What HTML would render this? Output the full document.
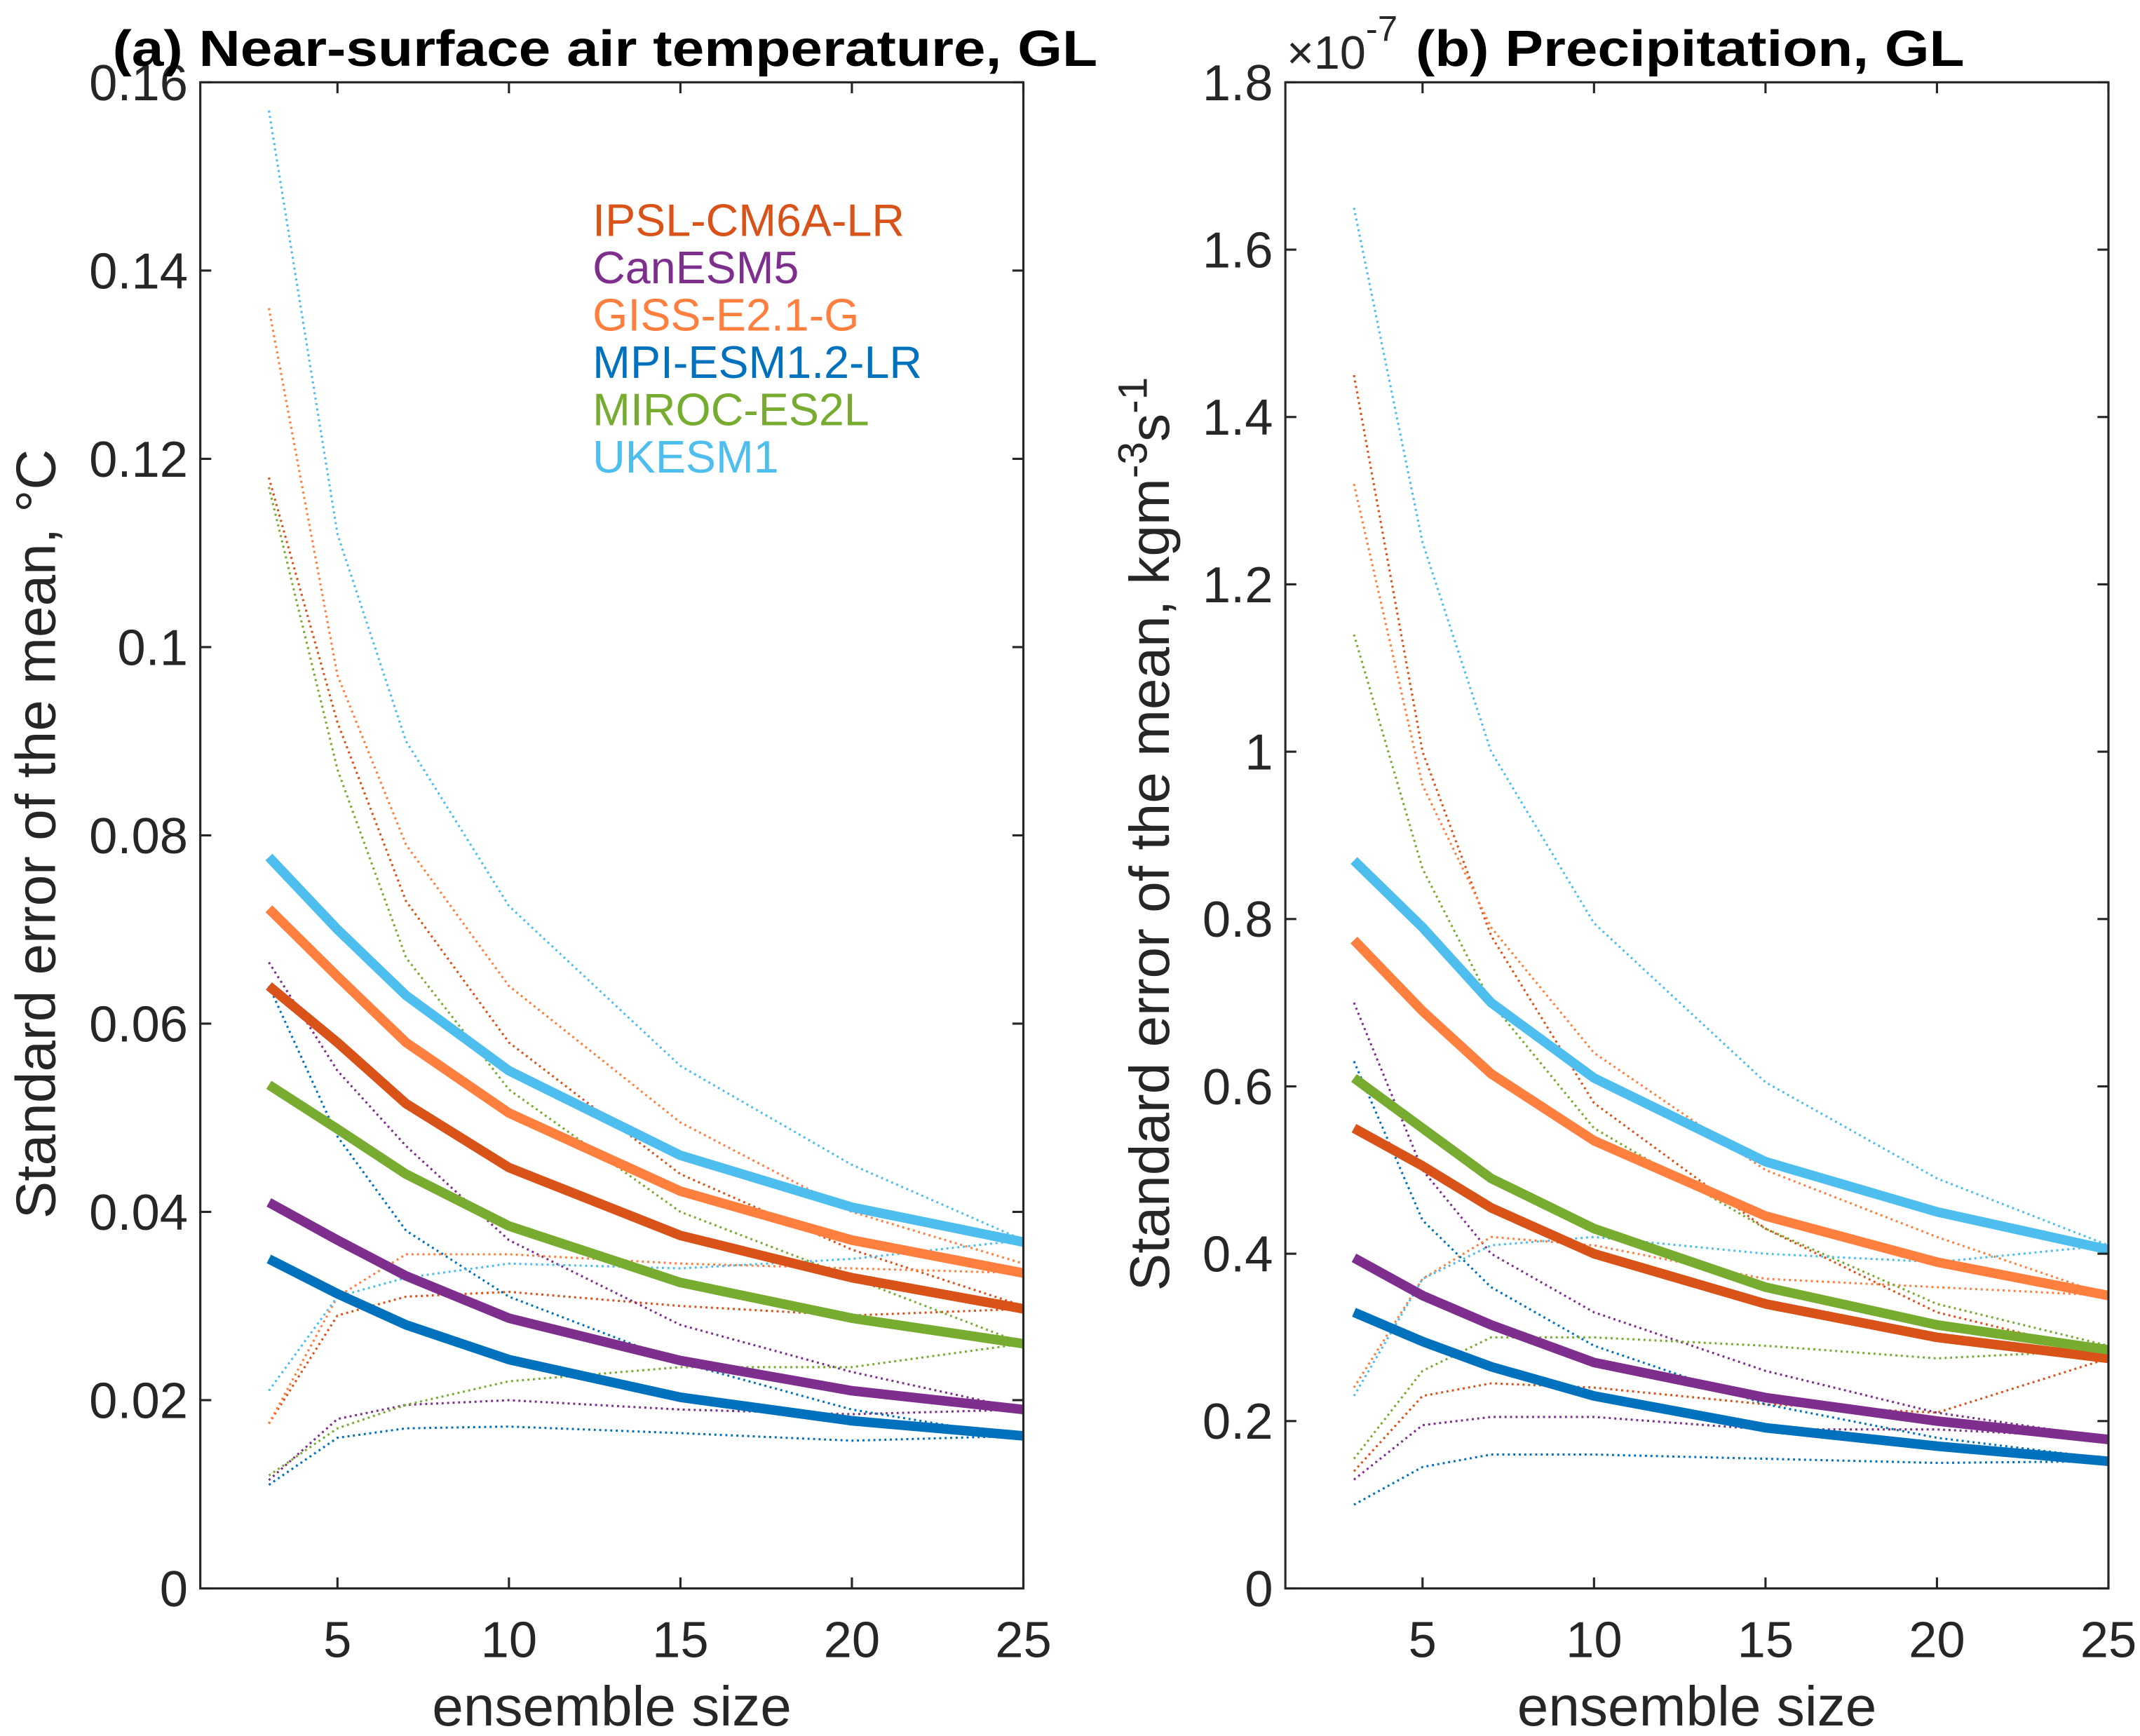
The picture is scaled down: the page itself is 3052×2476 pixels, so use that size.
<!DOCTYPE html>
<html><head><meta charset="utf-8"><style>
html,body{margin:0;padding:0;background:#fff;}
svg{display:block;font-family:"Liberation Sans",Arial,sans-serif;}
</style></head><body>
<svg id="chart" width="3052" height="2476" viewBox="0 0 1560 1265.6" xmlns="http://www.w3.org/2000/svg"></svg>
<script>
const ensembleSizes=[3,5,7,10,15,20,25];
const models=["IPSL-CM6A-LR","CanESM5","GISS-E2.1-G","MPI-ESM1.2-LR","MIROC-ES2L","UKESM1"];
const colors=["#D95319","#7E2F8E","#FF7F3F","#0072BD","#77AC30","#4DBEEE"];
// Panel a: temperature
const aMean=[[0.064,0.058,0.0515,0.0447,0.0375,0.033,0.0297],[0.041,0.037,0.0332,0.0287,0.0242,0.021,0.019],[0.0722,0.065,0.058,0.0505,0.0422,0.037,0.0335],[0.035,0.0313,0.028,0.0243,0.0203,0.0178,0.0162],[0.0535,0.0488,0.044,0.0385,0.0325,0.0287,0.026],[0.0777,0.070,0.063,0.055,0.046,0.0405,0.0368]];
const aUpper=[[0.118,0.092,0.073,0.058,0.044,0.036,0.030],[0.0665,0.055,0.047,0.037,0.028,0.023,0.019],[0.136,0.097,0.079,0.064,0.0495,0.040,0.0345],[0.064,0.048,0.038,0.031,0.024,0.019,0.016],[0.117,0.087,0.067,0.053,0.040,0.033,0.026],[0.157,0.112,0.090,0.0725,0.0555,0.045,0.037]];
const aLower=[[0.0175,0.029,0.031,0.0315,0.030,0.029,0.0297],[0.0115,0.018,0.0195,0.020,0.019,0.0185,0.019],[0.0175,0.031,0.0355,0.0355,0.0345,0.034,0.0335],[0.011,0.016,0.017,0.0172,0.0165,0.0157,0.0162],[0.012,0.017,0.0195,0.022,0.0235,0.0235,0.026],[0.021,0.031,0.033,0.0345,0.034,0.035,0.037]];
// Panel b: precipitation (x1e-7)
const bMean=[[0.55,0.505,0.455,0.40,0.34,0.30,0.275],[0.395,0.35,0.315,0.27,0.228,0.2,0.178],[0.775,0.69,0.615,0.535,0.445,0.39,0.35],[0.33,0.295,0.265,0.23,0.192,0.17,0.152],[0.61,0.55,0.49,0.43,0.36,0.315,0.285],[0.87,0.79,0.70,0.61,0.51,0.45,0.405]];
const bUpper=[[1.45,1.0,0.78,0.58,0.43,0.33,0.28],[0.70,0.50,0.40,0.33,0.26,0.21,0.18],[1.32,0.96,0.79,0.64,0.50,0.42,0.35],[0.63,0.44,0.36,0.29,0.22,0.18,0.155],[1.14,0.86,0.70,0.55,0.43,0.34,0.29],[1.65,1.25,1.0,0.795,0.605,0.49,0.41]];
const bLower=[[0.14,0.23,0.245,0.24,0.22,0.21,0.275],[0.13,0.195,0.205,0.205,0.19,0.19,0.18],[0.24,0.37,0.42,0.41,0.37,0.36,0.35],[0.10,0.145,0.16,0.16,0.155,0.15,0.152],[0.155,0.26,0.30,0.30,0.29,0.275,0.285],[0.23,0.37,0.41,0.42,0.40,0.39,0.41]];
const xTicks=[5,10,15,20,25];
const aYTicks=[0,0.02,0.04,0.06,0.08,0.1,0.12,0.14,0.16];
const aYLabels=["0","0.02","0.04","0.06","0.08","0.1","0.12","0.14","0.16"];
const bYTicks=[0,0.2,0.4,0.6,0.8,1,1.2,1.4,1.6,1.8];
const bYLabels=["0","0.2","0.4","0.6","0.8","1","1.2","1.4","1.6","1.8"];

const NS="http://www.w3.org/2000/svg";
const svg=document.getElementById('chart');
function mk(tag,attrs,parent,text){const e=document.createElementNS(NS,tag);for(const k in attrs)e.setAttribute(k,attrs[k]);if(text!==undefined)e.textContent=text;(parent||svg).appendChild(e);return e;}

function panel(id,left,right,top,bottom,ymax,yTicks,yLabels,mean,upper,lower){
  const g=mk('g',{});
  
  
  const xs=v=>left+(v-1)/24*(right-left);
  const ys=v=>bottom-v/ymax*(bottom-top);
  const pts=arr=>arr.map((v,i)=>xs(ensembleSizes[i]).toFixed(1)+','+ys(v).toFixed(1)).join(' ');
  for(let m=0;m<models.length;m++){
    const u=mk('polyline',{points:pts(upper[m]),fill:'none',stroke:colors[m],'stroke-width':1.6,'stroke-dasharray':'1.5 2.5'},g);
    
    
    const l=mk('polyline',{points:pts(lower[m]),fill:'none',stroke:colors[m],'stroke-width':1.6,'stroke-dasharray':'1.5 2.5'},g);
    
    
  }
  for(let m=0;m<models.length;m++){
    const p=mk('polyline',{points:pts(mean[m]),fill:'none',stroke:colors[m],'stroke-width':7,'stroke-linejoin':'round'},g);
    
    
  }
  const box=mk('rect',{x:left,y:top,width:right-left,height:bottom-top,fill:'none',stroke:'#262626','stroke-width':1.6},g);
  
  
  xTicks.forEach(t=>{
    const x=xs(t);
    mk('line',{x1:x,x2:x,y1:bottom,y2:bottom-8,stroke:'#262626','stroke-width':1.6},g);
    mk('line',{x1:x,x2:x,y1:top,y2:top+8,stroke:'#262626','stroke-width':1.6},g);
    const tx=mk('text',{x:x,y:bottom+50,'text-anchor':'middle','font-size':37,fill:'#262626'},g,String(t));
    
    
  });
  yTicks.forEach((t,i)=>{
    const y=ys(t);
    mk('line',{x1:left,x2:left+8,y1:y,y2:y,stroke:'#262626','stroke-width':1.6},g);
    mk('line',{x1:right,x2:right-8,y1:y,y2:y,stroke:'#262626','stroke-width':1.6},g);
    const tx=mk('text',{x:left-9,y:y+13,'text-anchor':'end','font-size':37,fill:'#262626'},g,yLabels[i]);
    
    
  });
  const xl=mk('text',{x:(left+right)/2,y:bottom+100,'text-anchor':'middle','font-size':41,fill:'#262626'},g,'ensemble size');
  
  
  return {xs,ys};
}
panel('a',146,746,60,1158,0.16,aYTicks,aYLabels,aMean,aUpper,aLower);
panel('b',937,1537,60,1158,1.8,bYTicks,bYLabels,bMean,bUpper,bLower);
</script>
<script>
(function(){
const svg=document.getElementById('chart');const NS="http://www.w3.org/2000/svg";
function t(attrs,text,name){const e=document.createElementNS(NS,'text');for(const k in attrs)e.setAttribute(k,attrs[k]);e.innerHTML=text;svg.appendChild(e);


return e;}
t({x:82,y:48,'font-size':37,'font-weight':'bold',fill:'#000',textLength:718,lengthAdjust:'spacingAndGlyphs'},'(a) Near-surface air temperature, GL','panel-a-title');
t({x:1032,y:48,'font-size':37,'font-weight':'bold',fill:'#000',textLength:400,lengthAdjust:'spacingAndGlyphs'},'(b) Precipitation, GL','panel-b-title');
t({x:938,y:50,'font-size':34,fill:'#262626'},'×10<tspan dy="-20" font-size="26">-7</tspan>','panel-b-exponent');
t({x:0,y:0,transform:'translate(40,608) rotate(-90)','text-anchor':'middle','font-size':41,fill:'#262626'},'Standard error of the mean, °C','panel-a-y-axis-title');
t({x:0,y:0,transform:'translate(852,608) rotate(-90)','text-anchor':'middle','font-size':41,fill:'#262626'},'Standard error of the mean, kgm<tspan dy="-16" font-size="30">-3</tspan><tspan dy="16">s</tspan><tspan dy="-16" font-size="30">-1</tspan>','panel-b-y-axis-title');
const names=["IPSL-CM6A-LR","CanESM5","GISS-E2.1-G","MPI-ESM1.2-LR","MIROC-ES2L","UKESM1"];
const cols=["#D95319","#7E2F8E","#FF7F3F","#0072BD","#77AC30","#4DBEEE"];
names.forEach((n,i)=>t({x:432,y:172+i*34.5,'font-size':33,fill:cols[i]},n,'legend-entry-'+n.toLowerCase()));
})();
</script>
</body></html>
